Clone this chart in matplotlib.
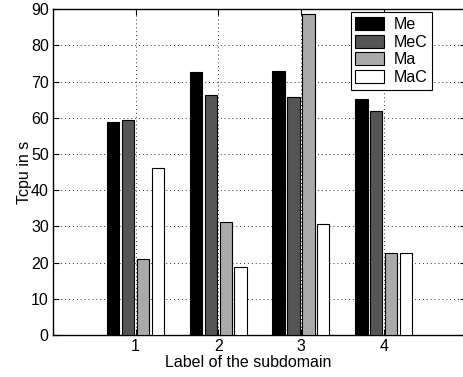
import numpy as np
import matplotlib
matplotlib.use("Agg")
import matplotlib.pyplot as plt

plt.rcParams["font.family"] = ["Liberation Sans", "DejaVu Sans"]

subdomains = [1, 2, 3, 4]
series_names = ["Me", "MeC", "Ma", "MaC"]
me = [58.9, 72.7, 72.8, 65.2]
mec = [59.4, 66.3, 65.7, 61.8]
ma = [21.1, 31.2, 88.5, 22.8]
mac = [46.2, 18.7, 30.6, 22.8]
colors = ["#000000", "#555555", "#aaaaaa", "#ffffff"]

fig = plt.figure(figsize=(4.64, 3.77), dpi=100)
ax = fig.add_axes([0.114, 0.111, 0.891, 0.865])

x = np.array(subdomains, dtype=float)
pitch = 0.18
width = 0.15
for i, (vals, name, c) in enumerate(zip([me, mec, ma, mac], series_names, colors)):
    off = (i - 1.5) * pitch
    ax.bar(x + off, vals, width, color=c, edgecolor="black", linewidth=0.8,
           label=name, zorder=3)

ax.set_xlim(0, 5)
ax.set_ylim(0, 90)
ax.set_xticks(subdomains)
ax.set_yticks(range(0, 91, 10))
ax.grid(True, linestyle=(0, (1, 3)), color="#333333", linewidth=0.7, zorder=0)
ax.tick_params(direction="in", labelsize=11.5, right=True, top=True, length=4,
               pad=3)
for s in ax.spines.values():
    s.set_linewidth(1.0)

ax.set_xlabel("Label of the subdomain", fontsize=11.5)
ax.xaxis.set_label_coords(0.472, -0.062)
ax.set_ylabel("Tcpu in s", fontsize=11.5)
ax.yaxis.set_label_coords(-0.05, 0.5)

leg = ax.legend(loc="upper left", bbox_to_anchor=(0.72, 0.99), fontsize=11.5,
                fancybox=False, framealpha=1, edgecolor="black",
                handlelength=1.8, handleheight=0.9, labelspacing=0.15,
                borderpad=0.3, handletextpad=0.6, borderaxespad=0.0)
leg.get_frame().set_linewidth(0.8)

fig.savefig("out.png", dpi=100)
